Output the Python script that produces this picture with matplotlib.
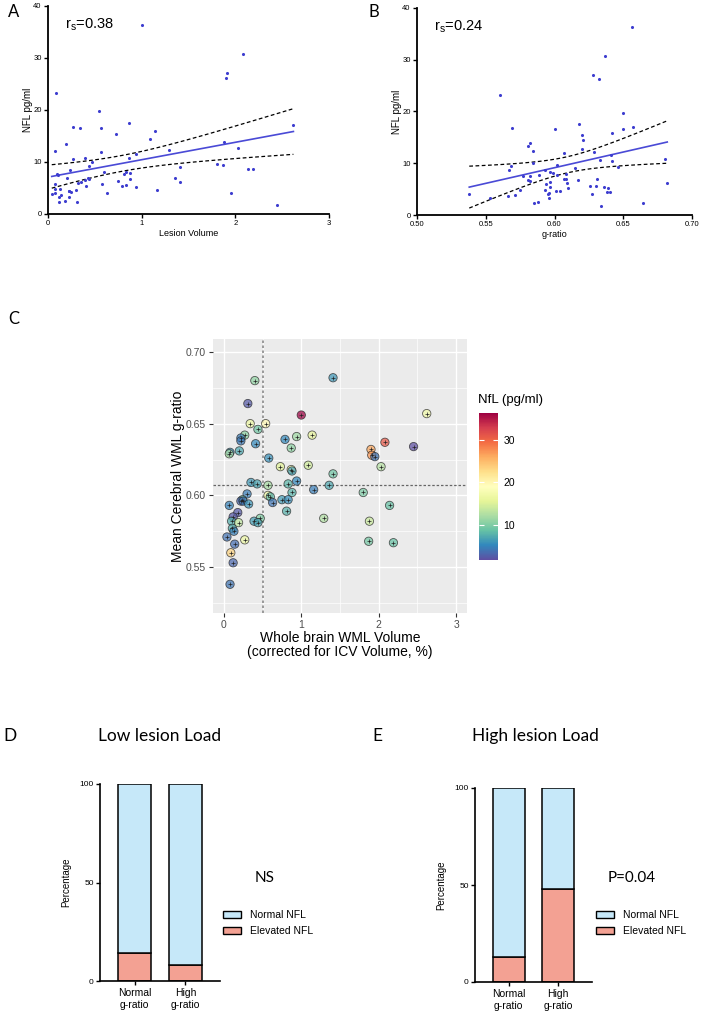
import numpy as np
import matplotlib
matplotlib.use('Agg')
import matplotlib.pyplot as plt
import matplotlib.colors as mcolors
from matplotlib.cm import ScalarMappable
from matplotlib.patches import Patch

plt.rcParams['font.family'] = ['Liberation Sans', 'DejaVu Sans']
plt.rcParams['mathtext.default'] = 'regular'

# per-patient values (lesion volume %, mean WML g-ratio, NfL pg/ml)
lesion_volume = np.array([
    0.40, 1.41, 0.31, 1.00, 2.62, 0.34, 0.54, 0.44, 0.27, 0.22,
    0.22, 0.41, 0.79, 0.94, 1.14, 0.87, 0.20, 0.08, 0.07, 0.58,
    1.90, 1.91, 1.95, 2.08, 2.45, 2.03, 0.73, 0.87, 0.88, 1.09,
    1.41, 0.94, 0.35, 0.43, 0.57, 0.83, 1.36, 1.16, 1.80, 0.88,
    0.30, 0.57, 0.60, 0.24, 0.22, 0.25, 0.32, 0.63, 0.75, 0.83,
    0.07, 2.14, 0.81, 0.18, 0.12, 1.29, 0.47, 0.39, 0.44, 0.10,
    0.19, 1.88, 0.11, 0.13, 0.04, 0.27, 0.14, 1.87, 2.19, 0.09,
    0.12, 0.08])
g_ratio = np.array([
    0.680, 0.682, 0.664, 0.656, 0.657, 0.650, 0.650, 0.646, 0.642, 0.640,
    0.638, 0.636, 0.639, 0.641, 0.642, 0.633, 0.631, 0.630, 0.629, 0.626,
    0.632, 0.628, 0.627, 0.637, 0.634, 0.620, 0.620, 0.618, 0.617, 0.621,
    0.615, 0.610, 0.609, 0.608, 0.607, 0.608, 0.607, 0.604, 0.602, 0.602,
    0.601, 0.600, 0.599, 0.597, 0.596, 0.596, 0.594, 0.595, 0.597, 0.597,
    0.593, 0.593, 0.589, 0.588, 0.585, 0.584, 0.584, 0.582, 0.581, 0.582,
    0.581, 0.582, 0.577, 0.575, 0.571, 0.569, 0.566, 0.568, 0.567, 0.560,
    0.553, 0.538])
nfl = np.array([
    10.8, 6.1, 2.4, 36.3, 17.1, 16.6, 19.8, 9.2, 10.5, 4.5,
    4.4, 5.4, 5.3, 11.5, 15.9, 10.7, 7.0, 5.7, 12.2, 5.7,
    26.2, 27.1, 4.0, 30.8, 1.7, 12.7, 15.4, 17.5, 6.7, 14.4,
    9.1, 5.2, 6.2, 6.9, 11.9, 8.0, 7.0, 4.6, 9.7, 7.8,
    4.6, 16.6, 8.1, 8.4, 3.3, 4.2, 5.9, 4.1, 6.4, 5.5,
    4.9, 8.7, 7.7, 2.5, 2.3, 12.4, 10.0, 6.5, 6.8, 7.6,
    13.4, 13.9, 7.5, 4.8, 3.9, 16.8, 3.6, 9.5, 8.6, 23.2,
    3.3, 4.1])

rs_lesion = '0.38'
rs_gratio = '0.24'
lesion_cut = 0.5
gratio_cut = 0.607

groups = ['Normal\ng-ratio', 'High\ng-ratio']
low_elevated = [14, 8]
low_normal = [86, 92]
high_elevated = [13, 48]
high_normal = [87, 52]

T95 = 1.995  # t critical value, df ~ 70

W, H = 710, 1024
def box(x0, y0, x1, y1):
    # pixel box (top-left origin) -> figure fraction rect
    return [x0 / W, 1 - y1 / H, (x1 - x0) / W, (y1 - y0) / H]

def fit_ci(x, y, xs):
    b, a = np.polyfit(x, y, 1)
    n = len(x)
    s = np.sqrt(np.sum((y - (a + b * x)) ** 2) / (n - 2))
    sxx = np.sum((x - x.mean()) ** 2)
    se = s * np.sqrt(1 / n + (xs - x.mean()) ** 2 / sxx)
    fit = a + b * xs
    return fit, fit - T95 * se, fit + T95 * se

dot_col = '#3d3dcf'
line_col = '#4a4ad6'
blue_fill = '#c6e8f9'
red_fill = '#f3a193'
title_font = ['Lato', 'DejaVu Sans']

fig = plt.figure(figsize=(W / 100, H / 100), dpi=100)

def prism_axes(ax, x, y, xlim, xticks, xlabel, rs, fmt):
    ax.scatter(x, y, s=5, color=dot_col, linewidths=0, zorder=3)
    xs = np.linspace(x.min(), x.max(), 100)
    fit, lo, hi = fit_ci(x, y, xs)
    ax.plot(xs, fit, color=line_col, lw=1.2)
    ax.plot(xs, lo, color='black', lw=0.9, dashes=(3, 2))
    ax.plot(xs, hi, color='black', lw=0.9, dashes=(3, 2))
    ax.set_xlim(*xlim)
    ax.set_ylim(0, 40)
    ax.set_xticks(xticks)
    ax.set_xticklabels([fmt % t for t in xticks])
    ax.set_yticks([0, 10, 20, 30, 40])
    for side in ['top', 'right']:
        ax.spines[side].set_visible(False)
    for side in ['left', 'bottom']:
        ax.spines[side].set_linewidth(1.3)
    ax.tick_params(labelsize=5.5, length=3, width=1, pad=1.5)
    ax.set_ylabel('NFL pg/ml', fontsize=7, labelpad=0)
    ax.set_xlabel(xlabel, fontsize=6.5, labelpad=1.5)
    ax.text(0.06, 0.91, 'r$_s$=' + rs, transform=ax.transAxes,
            fontsize=10.5, va='center')

# A
axA = fig.add_axes(box(48, 6, 329, 214))
prism_axes(axA, lesion_volume, nfl, (0, 3), [0, 1, 2, 3], 'Lesion Volume', rs_lesion, '%d')
fig.text(8 / W, 1 - 12 / H, 'A', fontsize=12, family=title_font, va='center')

# B
axB = fig.add_axes(box(417, 8, 692, 215))
prism_axes(axB, g_ratio, nfl, (0.5, 0.7), [0.50, 0.55, 0.60, 0.65, 0.70], 'g-ratio', rs_gratio, '%.2f')
fig.text(368 / W, 1 - 12 / H, 'B', fontsize=12, family=title_font, va='center')

# C
axC = fig.add_axes(box(213, 339, 467, 613))
axC.set_facecolor('#ebebeb')
for side in axC.spines.values():
    side.set_visible(False)
cmap = plt.get_cmap('Spectral_r')
norm = mcolors.Normalize(nfl.min(), nfl.max())
axC.axvline(lesion_cut, color='#8a8a8a', ls=(0, (1.5, 1.5)), lw=1.2, zorder=2)
axC.axhline(gratio_cut, color='#666666', ls=(0, (2, 1.5)), lw=0.9, zorder=2)
axC.scatter(lesion_volume, g_ratio, c=nfl, cmap=cmap, norm=norm, s=36,
            edgecolors='#222222', linewidths=0.6, alpha=0.72, zorder=3)
axC.scatter(lesion_volume, g_ratio, marker='+', s=12, color='#222222',
            linewidths=0.5, zorder=4)
axC.set_xlim(-0.14, 3.14)
axC.set_ylim(0.518, 0.709)
axC.set_xticks([0, 1, 2, 3])
axC.set_yticks([0.55, 0.60, 0.65, 0.70])
axC.set_yticklabels(['0.55', '0.60', '0.65', '0.70'])
axC.set_xticks([0.5, 1.5, 2.5], minor=True)
axC.set_yticks([0.525, 0.575, 0.625, 0.675], minor=True)
axC.grid(which='major', color='white', lw=1.0)
axC.grid(which='minor', color='white', lw=0.5)
axC.set_axisbelow(True)
axC.tick_params(which='major', length=3, color='#333333', labelcolor='#4d4d4d', labelsize=7.5, pad=2)
axC.tick_params(which='minor', length=0)
axC.set_ylabel('Mean Cerebral WML g-ratio', fontsize=10, labelpad=1)
axC.set_xlabel('Whole brain WML Volume\n(corrected for ICV Volume, %)', fontsize=10,
               labelpad=1, linespacing=1.0)
fig.text(8 / W, 1 - 319 / H, 'C', fontsize=12, family=title_font, va='center')

cax = fig.add_axes(box(479, 413, 498, 560))
cb = fig.colorbar(ScalarMappable(norm=norm, cmap=cmap), cax=cax)
cb.outline.set_visible(False)
cb.set_ticks([10, 20, 30])
cax.minorticks_off()
cax.tick_params(direction='in', color='white', width=0.8, length=3.5,
                left=True, right=True, labelsize=7.5, pad=4)
fig.text(478 / W, 1 - 400 / H, 'NfL (pg/ml)', fontsize=9.5, va='center')

# D / E
def stacked(ax, elevated, normal):
    pos = np.arange(len(groups))
    ax.bar(pos, elevated, width=0.65, color=red_fill, edgecolor='black', lw=1.1, zorder=2)
    ax.bar(pos, normal, bottom=elevated, width=0.65, color=blue_fill,
           edgecolor='black', lw=1.1, zorder=2)
    ax.set_xlim(-0.68, 1.68)
    ax.set_ylim(0, 100)
    ax.set_xticks(pos)
    ax.set_xticklabels(groups)
    ax.set_yticks([0, 50, 100])
    for side in ['top', 'right']:
        ax.spines[side].set_visible(False)
    for side in ['left', 'bottom']:
        ax.spines[side].set_linewidth(1.2)
    ax.tick_params(axis='y', labelsize=6, length=3, width=1, pad=1.5)
    ax.tick_params(axis='x', labelsize=7.5, length=3, width=1, pad=2)
    ax.set_ylabel('Percentage', fontsize=7, labelpad=6)

def legend_at(x, y):
    handles = [Patch(facecolor=blue_fill, edgecolor='black', lw=1, label='Normal NFL'),
               Patch(facecolor=red_fill, edgecolor='black', lw=1, label='Elevated NFL')]
    fig.legend(handles=handles, loc='center left', bbox_to_anchor=(x / W, 1 - y / H),
               frameon=False, fontsize=7.5, handlelength=1.7, handleheight=0.6,
               handletextpad=0.9, labelspacing=0.55, borderpad=0, borderaxespad=0)

axD = fig.add_axes(box(100, 784, 220, 981))
stacked(axD, low_elevated, low_normal)
fig.text(3 / W, 1 - 736 / H, 'D', fontsize=12.5, family=title_font, va='center')
fig.text(160 / W, 1 - 736 / H, 'Low lesion Load', fontsize=12.5, family=title_font,
         ha='center', va='center')
fig.text(265 / W, 1 - 878 / H, 'NS', fontsize=11, family=title_font, ha='center', va='center')
legend_at(223, 923)

axE = fig.add_axes(box(475, 788, 592, 982))
stacked(axE, high_elevated, high_normal)
fig.text(372 / W, 1 - 736 / H, 'E', fontsize=12.5, family=title_font, va='center')
fig.text(535 / W, 1 - 736 / H, 'High lesion Load', fontsize=12.5, family=title_font,
         ha='center', va='center')
fig.text(632 / W, 1 - 878 / H, 'P=0.04', fontsize=11, family=title_font, ha='center', va='center')
legend_at(596, 923)

fig.savefig('out.png', dpi=100, facecolor='white')
